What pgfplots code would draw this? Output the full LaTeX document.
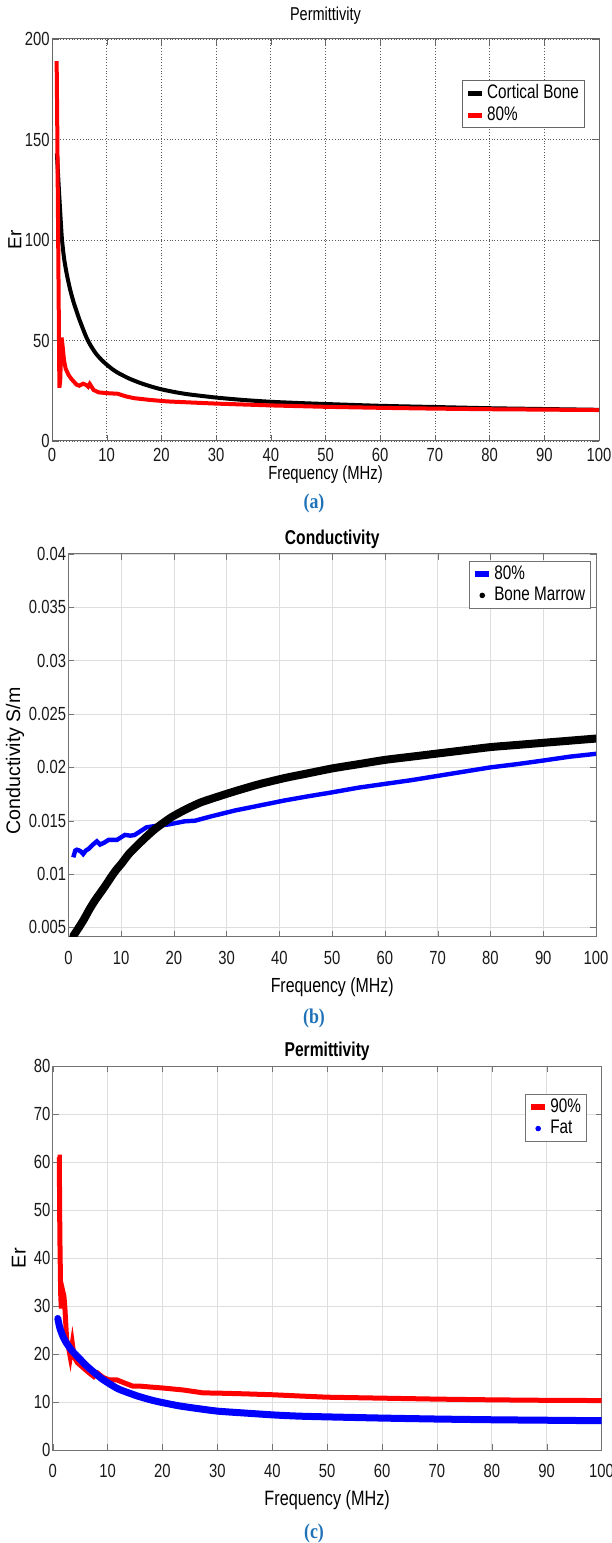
\documentclass[border=0pt]{standalone}
\usepackage{fontspec}
\setmainfont{Liberation Sans}[FakeStretch=0.78]
\newfontfamily\rotfont{Liberation Sans}
\newfontfamily\capfont{Liberation Serif}[FakeStretch=0.85]
\usepackage{pgfplots}
\pgfplotsset{compat=1.18}
\definecolor{capblue}{HTML}{1F72B8}
\pgfplotsset{
  common/.style={
    scale only axis, anchor=south west,
    xmin=0, xmax=100, xtick={0,10,...,100},
    tick align=inside, tick pos=both, major tick length=3pt,
    /pgf/number format/assume math mode=true,
    ticklabel style={font=\fontsize{9.5}{11}\selectfont, text=black!90},
    yticklabel style={inner xsep=1pt},
    legend cell align=left,
  },
  oldgrid/.style={grid=major, grid style={densely dotted, black!65, line width=0.35pt},
    axis line style={black!60, line width=0.5pt}, tick style={black!60}},
  newgrid/.style={grid=major, grid style={black!13, line width=0.4pt},
    axis line style={black!55, line width=0.5pt}, tick style={black!55}},
  lineimg/.style={legend image code/.code={\draw[#1] (0pt,0pt) -- (7pt,0pt);}},
  dotimg/.style={legend image code/.code={\path[draw=none,fill=none] (0pt,0pt) -- (7pt,0pt); \fill[#1,draw=none] (3.5pt,0pt) circle (1.4pt);}},
}
\begin{document}
\begin{tikzpicture}
\path[use as bounding box] (0,0) rectangle (305.5pt,771.5pt);

% ---------------- (a) ----------------
\begin{axis}[common, oldgrid,
  at={(26pt,551pt)}, width=273.5pt, height=201pt,
  ymin=0, ymax=200, ytick={0,50,100,150,200},
  title={Permittivity},
  title style={at={(axis description cs:0.5,1.06)}, anchor=center, yshift=-6.5pt, font=\fontsize{9.3}{11}\selectfont},
  xlabel={Frequency (MHz)},
  xlabel style={at={(axis description cs:0.5,-0.0846)}, anchor=center, font=\fontsize{9.5}{11}\selectfont},
  ylabel={Er},
  ylabel style={at={(axis description cs:-0.068,0.5)}, anchor=center, font=\rotfont\fontsize{9.5}{11}\selectfont},
  legend style={at={(axis description cs:0.974,0.898)}, anchor=north east, draw=black!60, line width=0.4pt,
    fill=white, inner xsep=1.5pt, inner ysep=1pt, nodes={inner sep=1.2pt}, font=\fontsize{9.8}{11}\selectfont},
]
\addplot[black, line width=2pt, smooth, tension=0.4, lineimg={black,line width=2.6pt}] coordinates {
(0.9,143)(1.2,128)(1.5,114)(1.8,101)(2.2,91)(2.7,83)(3.3,75.5)(3.9,69.5)(4.5,64.5)(5,60.5)(5.7,55.5)(6.3,51.5)
(7,47.8)(8,43.6)(9,40.5)(10,38)(11,35.8)(12,34)(14,31.2)(16,29)(18,27.2)(20,25.7)(22.5,24.3)(25,23.2)
(30,21.6)(35,20.4)(40,19.5)(45,18.9)(50,18.4)(60,17.5)(70,16.9)(80,16.3)(90,15.9)(100,15.5)};
\addlegendentry{Cortical Bone}
\addplot[red, line width=2pt, lineimg={red,line width=2.6pt}] coordinates {
(0.85,189)(0.95,160)(1.1,110)(1.25,60)(1.35,26.5)(1.5,30)(1.75,51.5)(1.95,47)(2.2,40)(2.5,36)(3.0,33)
(3.5,31)(4.0,29.5)(4.5,28)(5.0,27.5)(5.7,28.5)(6.3,27.8)(6.6,27)(6.9,28.4)(7.6,25.4)(8.5,24.2)(10,23.8)
(12,23.5)(13.5,22.2)(15,21.3)(18,20.4)(21,19.7)(25,19.2)(30,18.6)(40,17.7)(50,17.0)(60,16.5)(70,16.1)
(80,15.8)(90,15.6)(100,15.4)};
\addlegendentry{80\%}
\end{axis}
\node[font=\capfont\bfseries\fontsize{10.5}{12}\selectfont, text=capblue] at (157pt,520pt) {(a)};

% ---------------- (b) ----------------
\begin{axis}[common, newgrid,
  at={(34.2pt,303pt)}, width=263.8pt, height=191.5pt,
  ymin=0.0041, ymax=0.04, scaled y ticks=false,
  ytick={0.005,0.01,0.015,0.02,0.025,0.03,0.035,0.04},
  yticklabels={0.005,0.01,0.015,0.02,0.025,0.03,0.035,0.04},
  xticklabel style={yshift=-3.5pt},
  title={\bfseries Conductivity},
  title style={at={(axis description cs:0.5,1.042)}, anchor=center, yshift=-6.5pt, font=\fontsize{10}{12}\selectfont},
  xlabel={Frequency (MHz)},
  xlabel style={at={(axis description cs:0.5,-0.1305)}, anchor=center, font=\fontsize{10.2}{12}\selectfont},
  ylabel={Conductivity S/m},
  ylabel style={at={(axis description cs:-0.101,0.46)}, anchor=center, font=\rotfont\fontsize{9.8}{12}\selectfont},
  legend style={at={(axis description cs:0.9905,0.982)}, anchor=north east, draw=black!55, line width=0.4pt,
    fill=white, inner xsep=1.5pt, inner ysep=1pt, nodes={inner sep=1.2pt}, font=\fontsize{9.8}{11}\selectfont},
]
\addplot[blue, line width=2.2pt, lineimg={blue,line width=2.6pt}] coordinates {
(0.93,0.01157)(1.3,0.0122)(1.6,0.01228)(2.0,0.01222)(2.4,0.0121)(2.8,0.01188)(3.3,0.0122)(3.8,0.01235)
(4.5,0.0127)(5.4,0.01307)(6.0,0.01276)(6.8,0.01295)(7.6,0.0132)(9.2,0.0132)(10.7,0.01367)(11.7,0.0136)
(12.5,0.01365)(13.3,0.0139)(14.8,0.01438)(16.4,0.0145)(19,0.01465)(22,0.01494)(24,0.0150)(27,0.0154)
(31.5,0.01595)(36,0.0164)(41,0.0169)(45,0.01725)(50,0.01766)(55,0.0181)(60,0.01845)(65,0.0188)
(70,0.0192)(75,0.0196)(80,0.0200)(85,0.0203)(90,0.02064)(95,0.0210)(100,0.02127)};
\addlegendentry{80\%}
\addplot[black, line width=4pt, line cap=round, line join=round, smooth, tension=0.4, dotimg=black] coordinates {
(0.93,0.0042)(2,0.0050)(3,0.0058)(4,0.0067)(5,0.0075)(6,0.0082)(7,0.0089)(8,0.00965)(9,0.01035)
(10.1,0.0110)(11.5,0.0119)(13.3,0.0128)(15,0.0136)(16.5,0.01425)(18,0.0148)(19.6,0.01535)(22,0.0160)
(25,0.0167)(28,0.0172)(31.5,0.01775)(36,0.0184)(41,0.0190)(45,0.0194)(50,0.0199)(55,0.0203)(60,0.0207)
(65,0.0210)(70,0.0213)(75,0.0216)(80,0.0219)(85,0.0221)(90,0.0223)(95,0.0225)(100,0.0227)};
\addlegendentry{Bone Marrow}
\end{axis}
\node[font=\capfont\bfseries\fontsize{10.5}{12}\selectfont, text=capblue] at (157pt,262.5pt) {(b)};

% ---------------- (c) ----------------
\begin{axis}[common, newgrid,
  at={(26.35pt,46.5pt)}, width=274.45pt, height=192pt,
  ymin=0, ymax=80, ytick={0,10,...,80},
  xticklabel style={yshift=-3.5pt},
  title={\bfseries Permittivity},
  title style={at={(axis description cs:0.5,1.042)}, anchor=center, yshift=-6.5pt, font=\fontsize{10}{12}\selectfont},
  xlabel={Frequency (MHz)},
  xlabel style={at={(axis description cs:0.5,-0.130)}, anchor=center, font=\fontsize{10.4}{12}\selectfont},
  ylabel={Er},
  ylabel style={at={(axis description cs:-0.062,0.5)}, anchor=center, font=\rotfont\fontsize{10}{12}\selectfont},
  legend style={at={(axis description cs:0.973,0.927)}, anchor=north east, draw=black!55, line width=0.4pt,
    fill=white, inner xsep=1.5pt, inner ysep=1pt, nodes={inner sep=1.2pt}, font=\fontsize{9.8}{11}\selectfont},
]
\addplot[red, line width=2.5pt, lineimg={red,line width=2.8pt}] coordinates {
(0.9,61)(1.2,61)(1.3,45)(1.45,32.6)(1.55,30)(1.8,30)(1.93,32.6)(2.05,32)(2.2,30)(2.55,22.9)(2.86,21.5)
(3.2,19.4)(3.57,22.2)(3.9,19.4)(4.5,18.2)(5.7,17)(6.5,16.2)(7.5,15.3)(8.2,16)(9.2,15.1)(10.3,14.6)
(11.7,14.6)(13,14)(14.6,13.3)(16,13.3)(18,13.1)(20.2,12.9)(23.8,12.5)(27.4,11.9)(30,11.85)(35,11.7)
(40.3,11.5)(45,11.25)(50,11.0)(60,10.8)(70,10.6)(80,10.45)(90,10.35)(100,10.3)};
\addlegendentry{90\%}
\addplot[blue, line width=3.5pt, line cap=round, line join=round, smooth, tension=0.4, dotimg=blue] coordinates {
(0.93,27.4)(1.33,25.3)(1.93,23.5)(2.5,22.3)(3.57,20.6)(5,18.9)(6,17.7)(7.5,16.2)(9,14.8)(10.2,13.9)(12,12.7)
(15.3,11.3)(18,10.4)(19.9,9.9)(23,9.2)(26,8.7)(30,8.1)(35,7.7)(40.3,7.3)(45,7.05)(50,6.9)(60,6.65)
(70,6.45)(80,6.3)(90,6.2)(100,6.1)};
\addlegendentry{Fat}
\end{axis}
\node[font=\capfont\bfseries\fontsize{10.5}{12}\selectfont, text=capblue] at (157pt,5pt) {(c)};
\end{tikzpicture}
\end{document}
